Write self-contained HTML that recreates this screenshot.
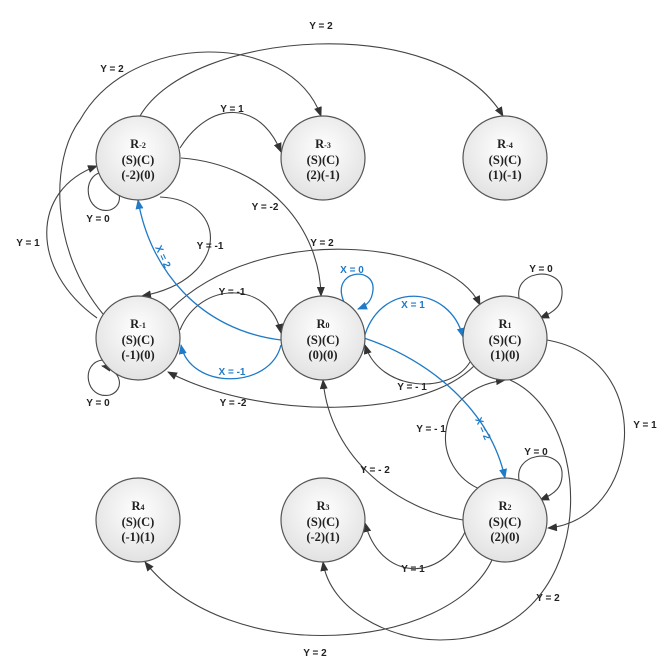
<!DOCTYPE html><html><head><style>body{margin:0;background:#fff}svg{display:block}
text{font-family:"Liberation Sans",sans-serif;font-size:10px;font-weight:bold;fill:#222}
.n text{font-family:"Liberation Serif",serif;font-size:12.5px;fill:#222}
</style></head><body>
<svg width="665" height="664" viewBox="0 0 665 664" xmlns="http://www.w3.org/2000/svg">
<defs>
<radialGradient id="g" cx="50%" cy="40%" r="60%"><stop offset="0" stop-color="#fff"/><stop offset="1" stop-color="#e2e2e2"/></radialGradient>
<marker id="a" markerWidth="10" markerHeight="8" refX="9" refY="4" orient="auto" markerUnits="userSpaceOnUse"><path d="M0,0L10,4L0,8z" fill="#333"/></marker>
<marker id="b" markerWidth="10" markerHeight="8" refX="9" refY="4" orient="auto" markerUnits="userSpaceOnUse"><path d="M0,0L10,4L0,8z" fill="#1f7ac8"/></marker>
</defs>
<g fill="none" stroke="#444" stroke-width="1.1" marker-end="url(#a)">
<path d="M140,116 C190,30 440,10 503,116"/>
<path d="M103,314 C50,250 50,160 80,120 C130,30 290,30 321,116"/>
<path d="M180,148 C210,100 260,100 281,152"/>
<path d="M181,158 C270,165 320,230 321,296"/>
<path d="M103,172 C80,175 85,215 110,210 C125,205 122,185 102,180"/>
<path d="M97,318 C30,270 30,190 97,166"/>
<path d="M160,197 C230,200 230,280 142,296"/>
<path d="M103,360 C80,362 85,400 110,395 C125,390 122,370 102,366"/>
<path d="M180,330 C200,280 270,280 281,333"/>
<path d="M170,310 C260,220 450,240 480,305"/>
<path d="M470,362 C450,395 380,392 365,345"/>
<path d="M474,366 C420,420 260,420 168,372"/>
<path d="M520,302 C510,270 560,265 562,290 C563,305 555,312 540,318"/>
<path d="M547,340 C660,360 640,520 548,528"/>
<path d="M482,490 C430,470 430,390 505,380"/>
<path d="M520,484 C510,452 560,447 562,472 C563,487 555,494 540,500"/>
<path d="M463,520 C400,510 330,460 323,380"/>
<path d="M466,530 C440,585 380,580 365,523"/>
<path d="M510,380 C600,420 600,640 440,640 C390,640 330,610 323,562"/>
<path d="M492,560 C450,650 230,670 145,562"/>
</g>
<g fill="none" stroke="#1f7ac8" stroke-width="1.3" marker-end="url(#b)">
<path d="M281,345 C270,390 190,390 181,345"/>
<path d="M281,340 C200,330 150,270 138,200"/>
<path d="M344,302 C330,270 375,265 373,290 C372,300 368,305 358,309"/>
<path d="M364,338 C380,280 450,285 463,337"/>
<path d="M364,338 C430,360 490,410 505,478"/>
</g>
<g class="n" stroke="#555" stroke-width="1.2">
<circle cx="138" cy="158" r="42" fill="url(#g)"/><circle cx="323" cy="158" r="42" fill="url(#g)"/><circle cx="505" cy="158" r="42" fill="url(#g)"/>
<circle cx="138" cy="338" r="42" fill="url(#g)"/><circle cx="323" cy="338" r="42" fill="url(#g)"/><circle cx="505" cy="338" r="42" fill="url(#g)"/>
<circle cx="138" cy="520" r="42" fill="url(#g)"/><circle cx="323" cy="520" r="42" fill="url(#g)"/><circle cx="505" cy="520" r="42" fill="url(#g)"/>
</g>
<g class="n" text-anchor="middle">
<text x="138" y="148" stroke="none">R<tspan font-size="8">-2</tspan></text><text x="138" y="164">(S)(C)</text><text x="138" y="179">(-2)(0)</text>
<text x="323" y="148">R<tspan font-size="8">-3</tspan></text><text x="323" y="164">(S)(C)</text><text x="323" y="179">(2)(-1)</text>
<text x="505" y="148">R<tspan font-size="8">-4</tspan></text><text x="505" y="164">(S)(C)</text><text x="505" y="179">(1)(-1)</text>
<text x="138" y="328">R<tspan font-size="8">-1</tspan></text><text x="138" y="344">(S)(C)</text><text x="138" y="359">(-1)(0)</text>
<text x="323" y="328">R<tspan font-size="8">0</tspan></text><text x="323" y="344">(S)(C)</text><text x="323" y="359">(0)(0)</text>
<text x="505" y="328">R<tspan font-size="8">1</tspan></text><text x="505" y="344">(S)(C)</text><text x="505" y="359">(1)(0)</text>
<text x="138" y="510">R<tspan font-size="8">4</tspan></text><text x="138" y="526">(S)(C)</text><text x="138" y="541">(-1)(1)</text>
<text x="323" y="510">R<tspan font-size="8">3</tspan></text><text x="323" y="526">(S)(C)</text><text x="323" y="541">(-2)(1)</text>
<text x="505" y="510">R<tspan font-size="8">2</tspan></text><text x="505" y="526">(S)(C)</text><text x="505" y="541">(2)(0)</text>
</g>
<g text-anchor="middle">
<text x="321" y="29">Y = 2</text><text x="112" y="72">Y = 2</text><text x="232" y="112">Y = 1</text>
<text x="265" y="210">Y = -2</text><text x="98" y="222">Y = 0</text><text x="210" y="249">Y = -1</text>
<text x="28" y="246">Y = 1</text><text x="98" y="406">Y = 0</text><text x="232" y="295">Y = -1</text>
<text x="322" y="246">Y = 2</text><text x="412" y="390">Y = - 1</text><text x="233" y="406">Y = -2</text>
<text x="541" y="272">Y = 0</text><text x="645" y="428">Y = 1</text><text x="431" y="432">Y = - 1</text>
<text x="536" y="455">Y = 0</text><text x="375" y="473">Y = - 2</text><text x="413" y="572">Y = 1</text>
<text x="548" y="601">Y = 2</text><text x="315" y="656">Y = 2</text>
<g style="fill:#1f7ac8"><text x="352" y="273" style="fill:#1f7ac8">X = 0</text><text x="413" y="308" style="fill:#1f7ac8">X = 1</text>
<text x="232" y="375" style="fill:#1f7ac8">X = -1</text>
<text x="160" y="258" style="fill:#1f7ac8" transform="rotate(65 160 258)">X = 2</text>
<text x="480" y="430" style="fill:#1f7ac8" transform="rotate(65 480 430)">X = 2</text></g>
</g>
</svg></body></html>
